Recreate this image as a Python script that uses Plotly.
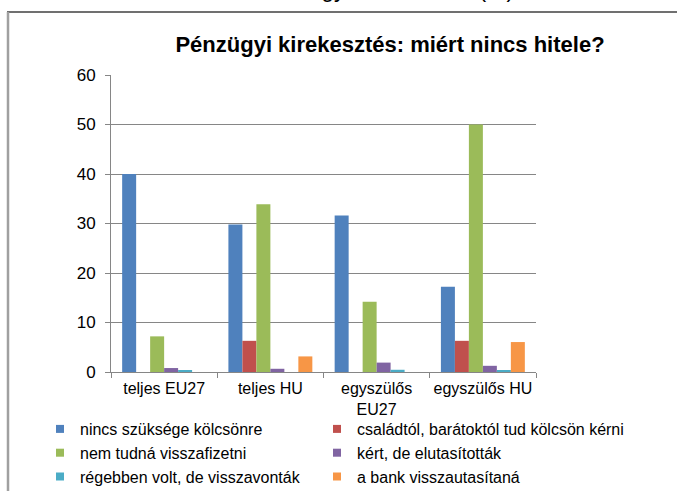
import plotly.graph_objects as go

categories = ["teljes EU27", "teljes HU", "egyszülős<br>EU27", "egyszülős HU"]
series_names = [
    "nincs szüksége kölcsönre",
    "családtól, barátoktól tud kölcsön kérni",
    "nem tudná visszafizetni",
    "kért, de elutasították",
    "régebben volt, de visszavonták",
    "a bank visszautasítaná",
]
nincs = [40.0, 29.8, 31.6, 17.2]
csaladtol = [0.0, 6.3, 0.0, 6.3]
nem_tudna = [7.2, 33.9, 14.2, 50.0]
kert = [0.8, 0.65, 1.9, 1.25]
regebben = [0.25, 0.0, 0.45, 0.35]
bank = [0.0, 3.15, 0.0, 6.05]
y_ticks = [0, 10, 20, 30, 40, 50, 60]

values = [nincs, csaladtol, nem_tudna, kert, regebben, bank]
colors = ["#4F81BD", "#C0504D", "#9BBB59", "#8064A2", "#4BACC6", "#F79646"]
legend_of = ["legend", "legend2", "legend", "legend2", "legend", "legend2"]

W, H = 677, 491
L, R, T, B = 111, 141, 75, 119
pw, ph = W - L - R, H - T - B

def px_x(x):
    return (x - L) / pw

def px_y(y):
    return 1 - (y - T) / ph

font = "Arial, Liberation Sans, sans-serif"

fig = go.Figure()
for name, vals, col in zip(series_names, values, colors):
    fig.add_trace(go.Bar(x=categories, y=vals, name=name, showlegend=False,
                         marker=dict(color=col, line=dict(width=0))))
# legend entries (Excel-like small square keys)
for name, col, lg in zip(series_names, colors, legend_of):
    fig.add_trace(go.Scatter(x=[None], y=[None], mode="markers", name=name,
                             legend=lg, showlegend=True,
                             marker=dict(symbol="square", size=8, color=col)))

leg_common = dict(orientation="v", xanchor="left", yref="container",
                  y=1 - 412 / H, yanchor="top", xref="container",
                  font=dict(family=font, size=16, color="black"),
                  bgcolor="rgba(0,0,0,0)", traceorder="normal")

fig.update_layout(
    width=W, height=H,
    margin=dict(l=L, r=R, t=T, b=B, autoexpand=False),
    paper_bgcolor="white", plot_bgcolor="white",
    barmode="group", bargap=0.21, bargroupgap=0,
    font=dict(family=font, size=16, color="black"),
    title=dict(text="<b>Pénzügyi kirekesztés: miért nincs hitele?</b>",
               x=390 / W, xanchor="center", xref="container",
               y=1 - 44 / H, yanchor="middle", yref="container",
               font=dict(family=font, size=22, color="black")),
    showlegend=True,
    legend=dict(x=40 / W, **leg_common),
    legend2=dict(x=317 / W, **leg_common),
)
fig.update_xaxes(showline=True, linecolor="#868686", linewidth=1,
                 ticks="outside", tickson="boundaries", ticklen=5, tickcolor="#868686",
                 tickangle=0, automargin=False, ticklabelstandoff=2,
                 showgrid=False, tickfont=dict(family=font, size=16, color="black"))
fig.update_yaxes(range=[0, 60], tickvals=y_ticks, showline=True, linecolor="#868686",
                 linewidth=1, ticks="outside", ticklen=5, tickcolor="#868686",
                 showgrid=True, gridcolor="#868686", gridwidth=1, zeroline=False,
                 automargin=False, ticklabelstandoff=6,
                 tickfont=dict(family=font, size=17, color="black"))

# frame of the slide graphic
fig.add_shape(type="line", xref="paper", yref="paper",
              x0=px_x(7), x1=px_x(690), y0=px_y(12), y1=px_y(12),
              line=dict(color="#404040", width=1.5))
fig.add_shape(type="line", xref="paper", yref="paper",
              x0=px_x(8), x1=px_x(8), y0=px_y(12), y1=px_y(500),
              line=dict(color="#A0A0A0", width=2.5))

# cropped heading from above
fig.add_annotation(text="Pénzügyi kirekesztés (%)", xref="paper", yref="paper",
                   x=px_x(385), xanchor="center", y=px_y(4), yanchor="bottom",
                   showarrow=False, font=dict(family=font, size=23, color="black"))

fig.write_html("out.html", config={"displayModeBar": False},
               post_script="document.body.style.margin='0';document.body.style.overflow='hidden';")
